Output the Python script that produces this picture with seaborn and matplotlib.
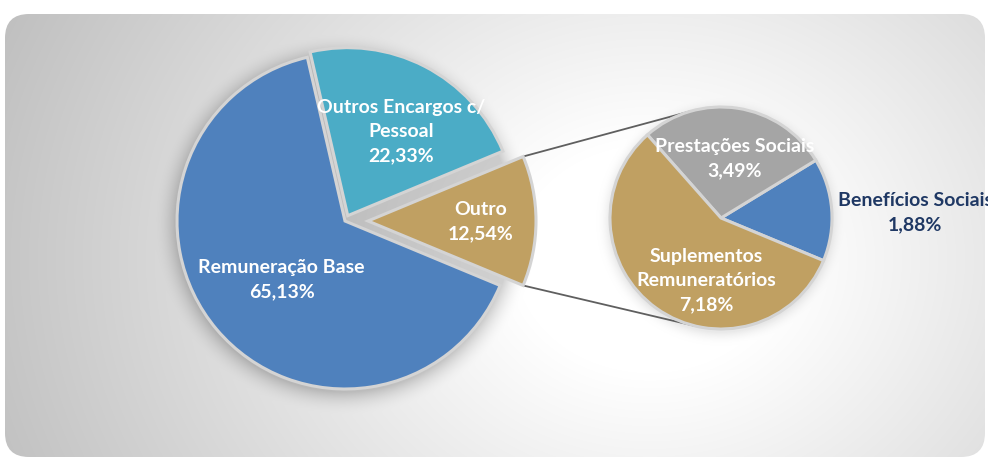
import numpy as np
import matplotlib
matplotlib.use("Agg")
import matplotlib.pyplot as plt
from matplotlib.patches import FancyBboxPatch
import seaborn as sns

# Main pie: "Outro" is broken out into the secondary pie
main_labels = ["Outro", "Outros Encargos c/\nPessoal", "Remuneração Base"]
main_values = [12.54, 22.33, 65.13]
main_colors = ["#C0A062", "#4BACC6", "#4F81BD"]

# Secondary pie: composition of "Outro"
detail_labels = ["Benefícios Sociais", "Prestações Sociais", "Suplementos\nRemuneratórios"]
detail_values = [1.88, 3.49, 7.18]
detail_colors = ["#4F81BD", "#A5A5A5", "#C0A062"]


def pct(v):
    return f"{v:.2f}%".replace(".", ",")


sns.set_theme(style="white")
plt.rcParams["font.family"] = ["Lato", "DejaVu Sans"]

W, H = 988, 460
fig = plt.figure(figsize=(W / 100, H / 100), dpi=100)
fig.patch.set_facecolor("white")
ax = fig.add_axes([0, 0, 1, 1])

# Pie geometry (pixel units, y up)
main_center = (345, H - 222)
main_radius = 168
detail_center = (721, H - 219)
detail_radius = 111
start = -main_values[0] / sum(main_values) * 360 / 2

# ---- background panel: radial grey gradient with soft pie shadows ----
yy, xx = np.mgrid[0:H, 0:W] + 0.5
d = np.sqrt(((xx - 650) / 450) ** 2 + ((yy - 260) / 380) ** 2)
t = np.clip((d - 0.3) / 1.3, 0, 1)
gray = 255 - 65 * t


def shadow(cx, cy, r, width, amp):
    dist = np.sqrt((xx - cx) ** 2 + (yy - cy) ** 2)
    s = np.clip(1 - (dist - r) / width, 0, 1) ** 2
    return amp * s


gray = gray - shadow(main_center[0], H - main_center[1] + 3, main_radius, 24, 45)
gray = gray - shadow(detail_center[0], H - detail_center[1] + 3, detail_radius, 14, 22)
gray = np.clip(gray, 0, 255) / 255.0
bg = np.dstack([gray, gray, gray])

panel = FancyBboxPatch((5, 2), 980, 443, boxstyle="round,pad=0,rounding_size=24",
                       transform=ax.transData, facecolor="none", edgecolor="none")
ax.add_patch(panel)
im = ax.imshow(bg, extent=(0, W, 0, H), origin="upper", zorder=0, interpolation="bilinear")
im.set_clip_path(panel)

edge = dict(edgecolor="#d4d4d4", linewidth=2.2)

main_wedges, _ = ax.pie(main_values, colors=main_colors, startangle=start,
                        counterclock=True, explode=[23, 6, 0],
                        center=main_center, radius=main_radius,
                        wedgeprops=edge, frame=True)
detail_wedges, _ = ax.pie(detail_values, colors=detail_colors, startangle=start,
                          counterclock=True, center=detail_center,
                          radius=detail_radius, wedgeprops=edge, frame=True)
for w in main_wedges + detail_wedges:
    w.set_zorder(3)

# ---- connector lines from the "Outro" slice to the secondary pie ----
outro = main_wedges[0]
ocx, ocy = outro.center
cx2, cy2 = detail_center
for ang, sign in ((outro.theta2, -1), (outro.theta1, 1)):
    px = ocx + outro.r * np.cos(np.radians(ang))
    py = ocy + outro.r * np.sin(np.radians(ang))
    vx, vy = px - cx2, py - cy2
    dist = np.hypot(vx, vy)
    phi = np.arctan2(vy, vx)
    alpha = np.arccos(detail_radius / dist)
    tang = phi + sign * alpha
    qx = cx2 + detail_radius * np.cos(tang)
    qy = cy2 + detail_radius * np.sin(tang)
    ax.plot([px, qx], [py, qy], color="#5f5f5f", lw=1.3, zorder=2,
            solid_capstyle="butt")

# ---- data labels ----
label_kw = dict(ha="center", va="center", fontsize=14, fontweight="bold",
                linespacing=1.5, zorder=5)


def place(wedge, text, frac, dang=0.0, color="white"):
    mid = np.radians((wedge.theta1 + wedge.theta2) / 2 + dang)
    x = wedge.center[0] + frac * wedge.r * np.cos(mid)
    y = wedge.center[1] + frac * wedge.r * np.sin(mid)
    ax.text(x, y, text, color=color, **label_kw)


main_pos = [(0.67, 0), (0.60, -5), (0.51, 2)]
for w, lab, v, (f, da) in zip(main_wedges, main_labels, main_values, main_pos):
    place(w, f"{lab}\n{pct(v)}", f, da)

detail_pos = [(1.75, -2.5), (0.56, -4), (0.57, 22)]
detail_text_colors = ["#1F3864", "white", "white"]
for w, lab, v, (f, da), c in zip(detail_wedges, detail_labels, detail_values,
                                 detail_pos, detail_text_colors):
    place(w, f"{lab}\n{pct(v)}", f, da, color=c)

ax.set_xlim(0, W)
ax.set_ylim(0, H)
ax.set_aspect("equal")
ax.axis("off")

fig.savefig("out.png", dpi=100, facecolor="white")
